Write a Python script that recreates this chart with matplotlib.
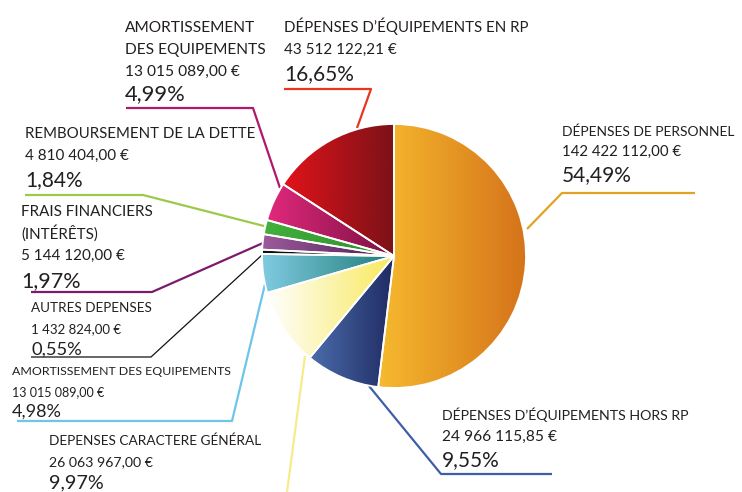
import matplotlib
matplotlib.use("Agg")
import matplotlib.pyplot as plt
import numpy as np
from matplotlib.colors import LinearSegmentedColormap

plt.rcParams['font.family'] = ['Lato', 'DejaVu Sans']

# ---- data (order: clockwise from 12 o'clock) ----
categories = ["DÉPENSES DE PERSONNEL", "DÉPENSES D’ÉQUIPEMENTS HORS RP",
              "DEPENSES CARACTERE GÉNÉRAL", "AMORTISSEMENT DES EQUIPEMENTS",
              "AUTRES DEPENSES", "FRAIS FINANCIERS\n(INTÉRÊTS)",
              "REMBOURSEMENT DE LA DETTE", "AMORTISSEMENT\nDES EQUIPEMENTS",
              "DÉPENSES D’ÉQUIPEMENTS EN RP"]
amounts = [142422112.00, 24966115.85, 26063967.00, 13015089.00, 1432824.00,
           5144120.00, 4810404.00, 13015089.00, 43512122.21]
amount_labels = ["142 422 112,00 €", "24 966 115,85 €", "26 063 967,00 €",
                 "13 015 089,00 €", "1 432 824,00 €", "5 144 120,00 €",
                 "4 810 404,00 €", "13 015 089,00 €", "43 512 122,21 €"]
pct_labels = ["54,49%", "9,55%", "9,97%", "4,98%", "0,55%", "1,97%",
              "1,84%", "4,99%", "16,65%"]

# gradient colours (left -> right) per wedge
grad_colors = [("#F6BA2E", "#D5731A"), ("#4B6DAB", "#1F2A62"),
               ("#FFFFFF", "#F8E95C"), ("#80CBE2", "#1D7B76"),
               ("#111111", "#000000"), ("#9C5C9C", "#4B1C52"),
               ("#43B03C", "#2C8C2C"), ("#E2297C", "#7A1042"),
               ("#E2121A", "#7B1218")]
line_colors = ["#E1A321", "#3D5FA8", "#F7EB8C", "#6EC5E9", "#111111",
               "#7B1B6B", "#9DC94B", "#B1186B", "#E8361E"]

W, H = 742, 492
fig = plt.figure(figsize=(W / 100, H / 100), dpi=100)
ax = fig.add_axes([0, 0, 1, 1])

def Y(y):
    return H - y

cx, cy, R = 394, 256, 132
wedges, _ = ax.pie(amounts, startangle=90, counterclock=False,
                   center=(cx, Y(cy)), radius=R, frame=True,
                   wedgeprops=dict(edgecolor='white', linewidth=1.3))

grad = np.linspace(0, 1, 256).reshape(1, -1)
for w, (c1, c2) in zip(wedges, grad_colors):
    ext = w.get_path().get_extents()
    cmap = LinearSegmentedColormap.from_list("g", [c1, c2])
    im = ax.imshow(grad, cmap=cmap, aspect='auto',
                   extent=(ext.x0, ext.x1, ext.y0, ext.y1),
                   zorder=w.get_zorder() + 0.1, interpolation='bilinear')
    im.set_clip_path(w)
    w.set_facecolor('none')
    w.set_zorder(w.get_zorder() + 0.2)
ax.set_xlim(0, W)
ax.set_ylim(0, H)
ax.axis('off')

# ---- label layout ----
TXT = "#231F20"
label_layout = [
    # x, title baselines, amount baseline, pct baseline, title/amount/pct sizes
    (562, [136], 156, 181, 10.0, 10.8, 15),
    (442, [420], 441, 466, 10.2, 11.2, 15),
    (49, [445], 466, 488, 9.8, 10.2, 14.2),
    (12, [375], 396, 417, 8.9, 9.0, 13),
    (31, [312], 333, 355, 9.7, 9.5, 13.2),
    (21, [216, 239], 260, 287, 10.9, 11.0, 15.5),
    (25, [138], 160, 186, 10.8, 11.0, 15),
    (125, [32, 54], 76, 100, 11.2, 11.2, 15.8),
    (284, [32], 54, 80, 10.8, 11.0, 15),
]
for cat, amt, pct, (x, tb, ab, pb, ts, asz, ps) in zip(
        categories, amount_labels, pct_labels, label_layout):
    for line, b in zip(cat.split("\n"), tb):
        ax.text(x, Y(b), line, fontsize=ts, color=TXT, va='baseline', ha='left')
    ax.text(x, Y(ab), amt, fontsize=asz, color=TXT, va='baseline', ha='left')
    ax.text(x, Y(pb), pct, fontsize=ps, color=TXT, va='baseline', ha='left')

# leader lines (pixel coords)
leaders = [
    [(695, 193), (562, 193), (527, 229)],
    [(552, 474), (441, 474), (369, 386)],
    [(287, 492), (305, 356)],
    [(17, 421), (232, 421), (266, 280)],
    [(31, 357), (151, 357), (262, 255)],
    [(31, 292), (152, 292), (263, 243)],
    [(25, 195), (143, 195), (264, 226)],
    [(126, 108), (253, 108), (280, 188)],
    [(284, 89), (371, 89), (357, 128)],
]
for pts, col in zip(leaders, line_colors):
    xs = [p[0] for p in pts]
    ys = [Y(p[1]) for p in pts]
    lw = 0.9 if col == "#111111" else 1.6
    ax.plot(xs, ys, color=col, lw=lw, zorder=0.5, solid_capstyle='butt')

fig.savefig("out.png", dpi=100, facecolor='white')
